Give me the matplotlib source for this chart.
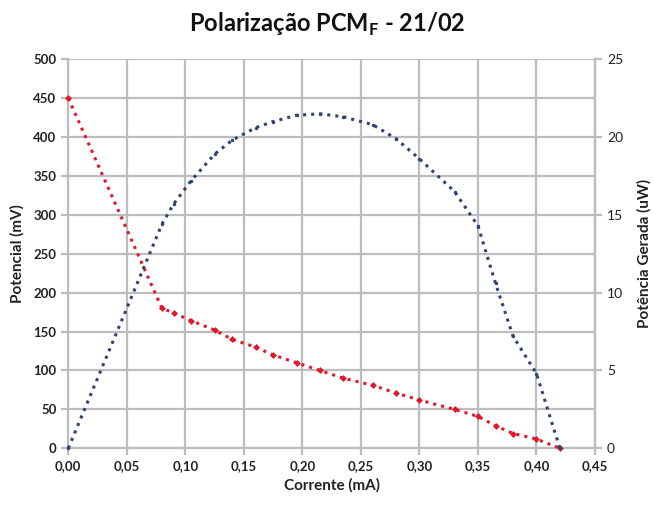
import matplotlib
matplotlib.use("Agg")
import matplotlib.pyplot as plt

current = [0.00, 0.08, 0.09, 0.105, 0.125, 0.14, 0.16, 0.175, 0.195, 0.215,
           0.235, 0.26, 0.28, 0.30, 0.33, 0.35, 0.365, 0.38, 0.40, 0.42]
potential = [450, 180, 174, 164, 152, 140, 130, 120, 110, 100,
             90, 81, 71, 62, 50, 41, 29, 19, 12, 0]
power = [0.0, 14.4, 15.7, 17.2, 18.9, 19.8, 20.6, 21.0, 21.4, 21.5,
         21.3, 20.8, 19.9, 18.6, 16.5, 14.3, 10.6, 7.2, 4.8, 0.0]

x_ticks = [0.00, 0.05, 0.10, 0.15, 0.20, 0.25, 0.30, 0.35, 0.40, 0.45]
y_left_ticks = [0, 50, 100, 150, 200, 250, 300, 350, 400, 450, 500]
y_right_ticks = [0, 5, 10, 15, 20, 25]

plt.rcParams['font.family'] = ['Lato', 'DejaVu Sans']
plt.rcParams['mathtext.fontset'] = 'custom'
plt.rcParams['mathtext.rm'] = 'Lato'
plt.rcParams['mathtext.bf'] = 'Lato:bold'

fig = plt.figure(figsize=(6.54, 5.05), dpi=100)
ax = fig.add_axes([0.1044, 0.1123, 0.9098 - 0.1044, 0.8826 - 0.1123])
ax2 = ax.twinx()

grid_c = '#BDBDBD'
red = '#E3162A'
blue = '#2E4470'

ax.plot(current, potential, linestyle=':', color=red, linewidth=2.2,
        marker='D', markersize=3.5, markeredgewidth=0, zorder=3, clip_on=False)
ax2.plot(current, power, linestyle=':', color=blue, linewidth=2.2,
         marker='o', markersize=2.5, markeredgewidth=0, zorder=3, clip_on=False)

ax.set_xlim(0, 0.45)
ax.set_ylim(0, 500)
ax2.set_ylim(0, 25)
ax.set_xticks(x_ticks)
ax.set_xticklabels([f"{v:.2f}".replace('.', ',') for v in x_ticks],
                   fontweight='bold', fontsize=9.5, color='#222222')
ax.set_yticks(y_left_ticks)
ax.set_yticklabels([str(v) for v in y_left_ticks], fontweight='bold',
                   fontsize=9.5, color='#222222')
ax2.set_yticks(y_right_ticks)
ax2.set_yticklabels([str(v) for v in y_right_ticks], fontsize=10, color='#333333')

ax.grid(True, color=grid_c, linewidth=1.6)
ax.set_axisbelow(True)
for a in (ax, ax2):
    a.spines['top'].set_visible(False)
    for s in ('left', 'bottom', 'right'):
        a.spines[s].set_color(grid_c)
        a.spines[s].set_linewidth(1.6)
    a.tick_params(colors=grid_c, width=1.6, length=5, labelcolor='#222222')
ax2.spines['left'].set_visible(False)
ax2.spines['bottom'].set_visible(False)

ax.set_xlabel('Corrente (mA)', fontweight='bold', fontsize=11, color='#222222', labelpad=4)
ax.set_ylabel('Potencial (mV)', fontweight='bold', fontsize=11, color='#222222', labelpad=6)
ax2.set_ylabel('Potência Gerada (uW)', fontweight='bold', fontsize=11, color='#222222', labelpad=10)

fig.text(0.5, 0.952, r'Polarização PCM$_\mathbf{F}$ - 21/02', ha='center', va='center',
         fontsize=17, fontweight='bold', color='#111111')

fig.savefig('out.png', dpi=100, facecolor='white')
